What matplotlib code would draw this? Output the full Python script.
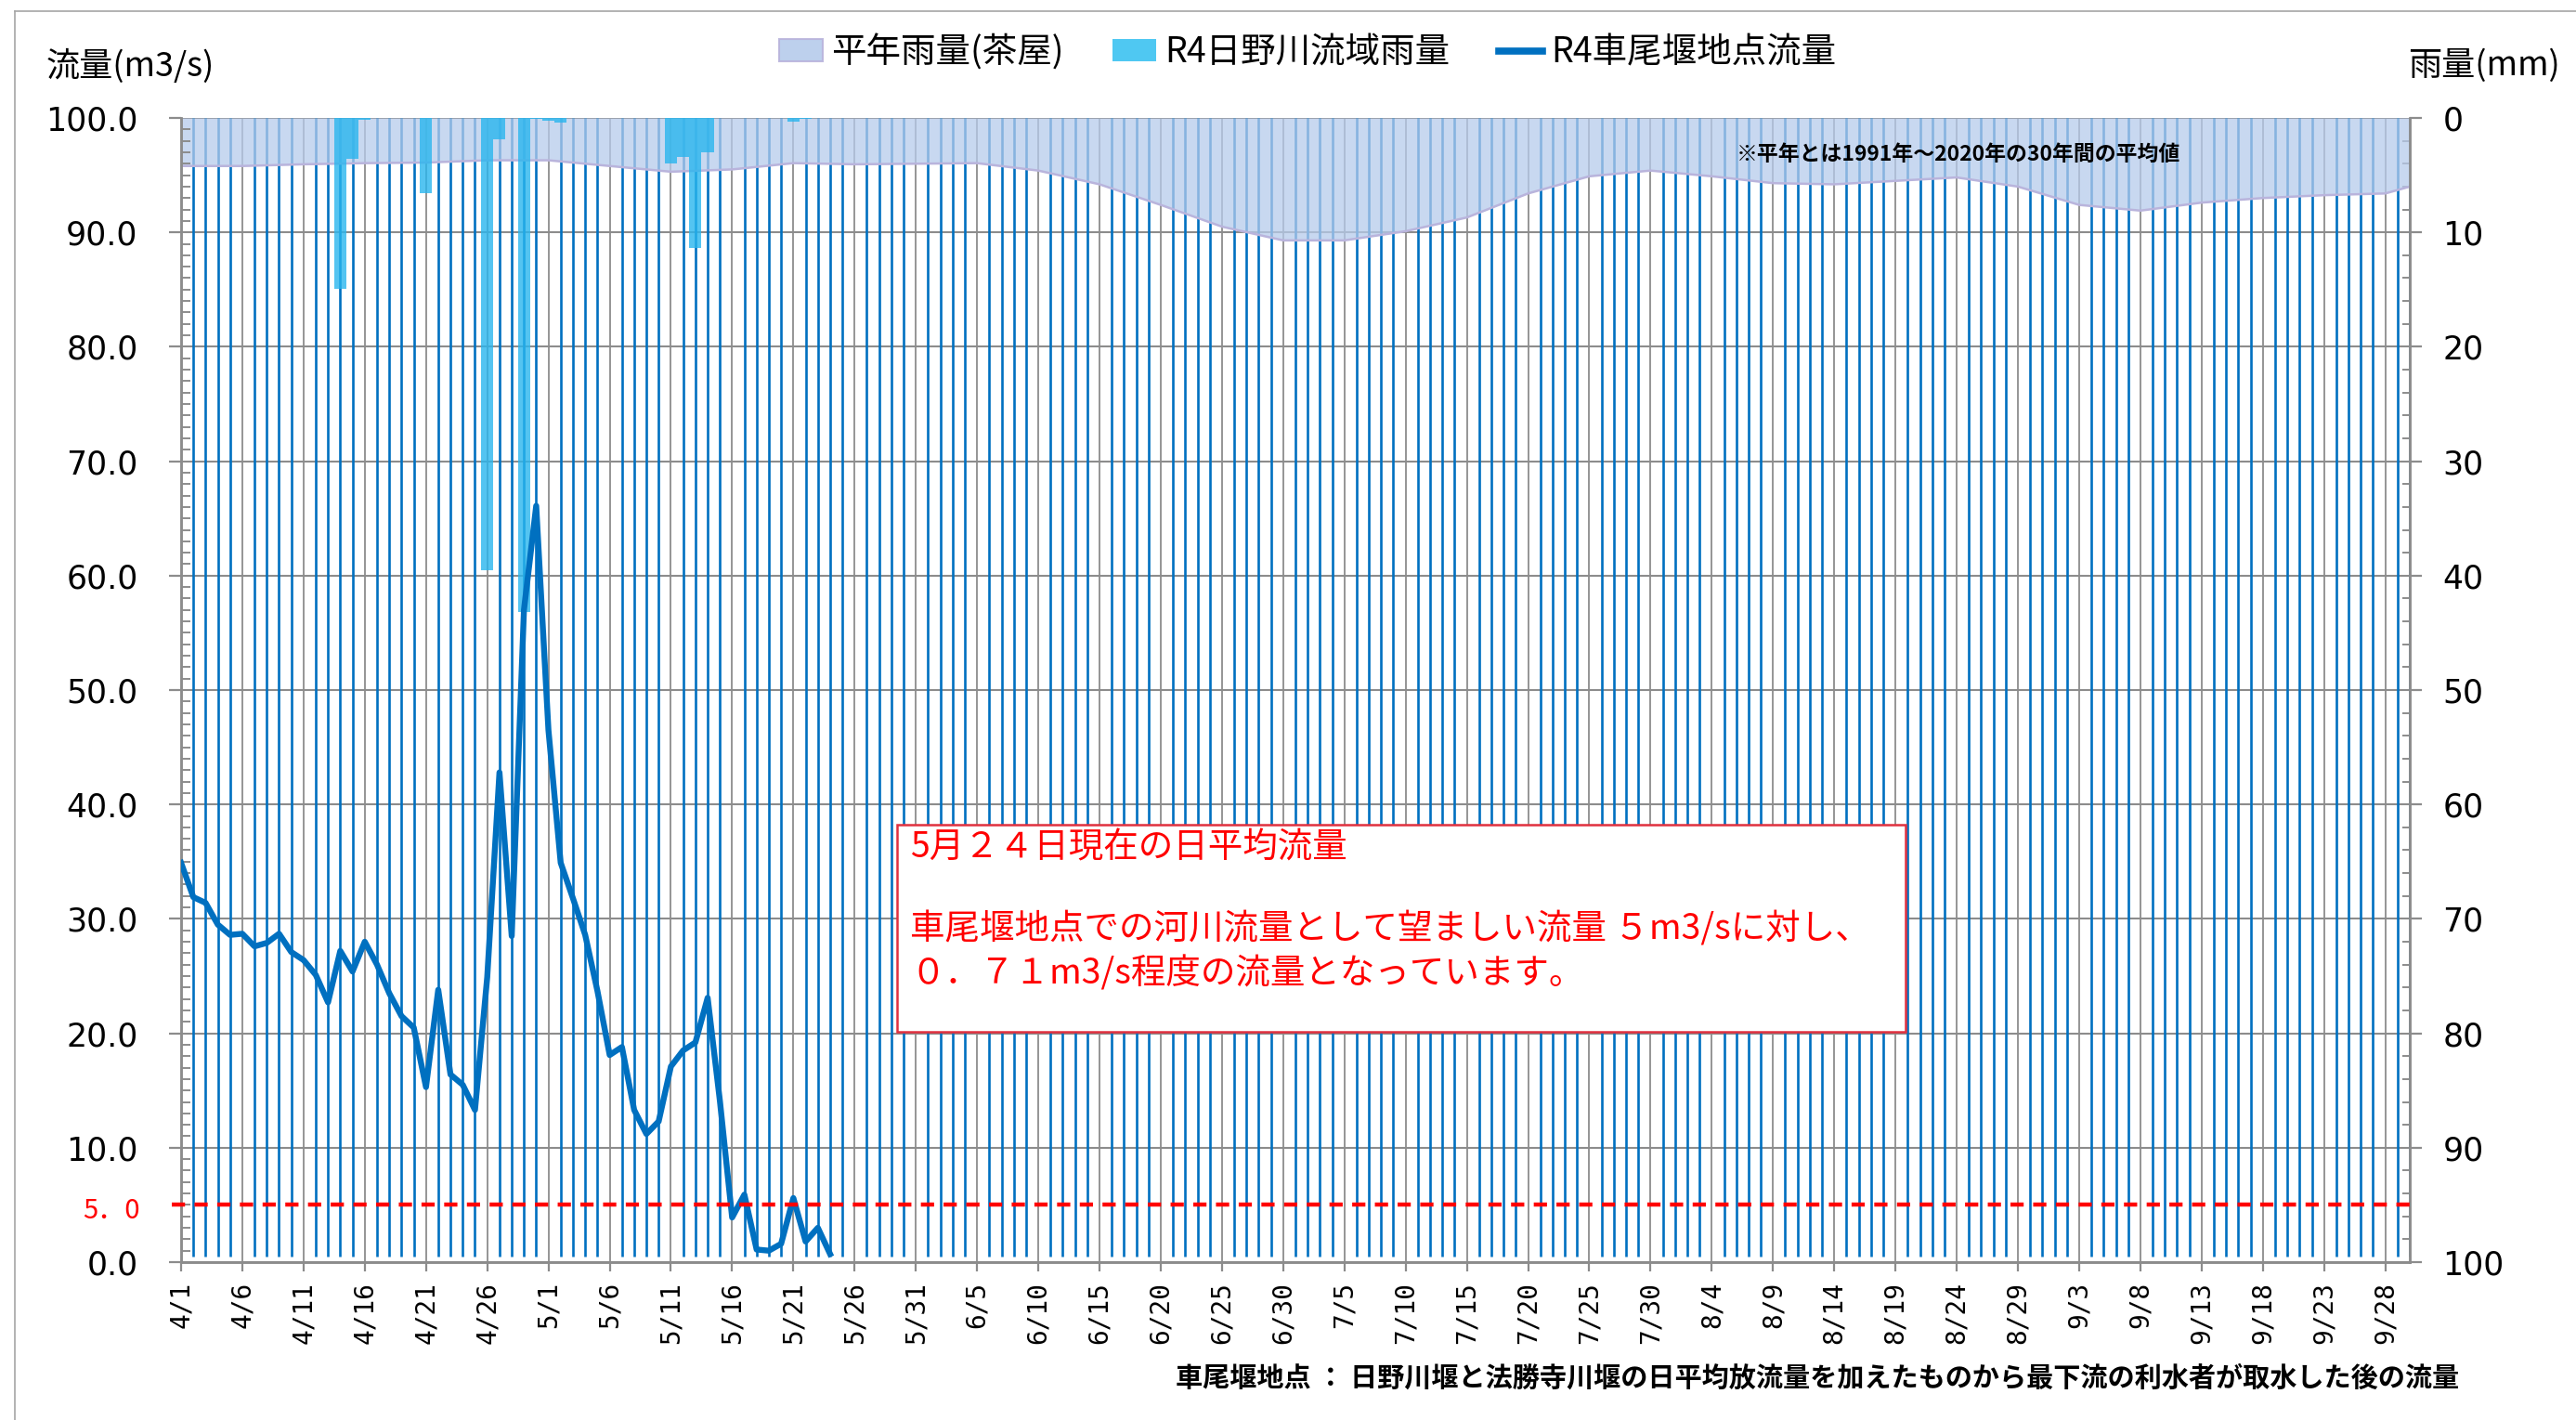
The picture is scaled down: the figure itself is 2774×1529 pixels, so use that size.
import matplotlib
matplotlib.use("Agg")
import matplotlib.pyplot as plt
import matplotlib.patches as mpatches
from matplotlib.lines import Line2D
from matplotlib.ticker import MultipleLocator
from matplotlib import font_manager as fm
import matplotlib.transforms as mtransforms
import numpy as np

JP = ["Noto Sans CJK JP", "DejaVu Sans"]
plt.rcParams["font.family"] = JP

_names = {f.name for f in fm.fontManager.ttflist}
if "Liberation Sans Narrow" in _names:
    NUM_FONT, NUM_SIZE = ["Liberation Sans Narrow", "DejaVu Sans"], 32
else:
    NUM_FONT, NUM_SIZE = ["DejaVu Sans"], 25

# ── Data ──────────────────────────────────────────────────────────────────────
n_days = 183  # 4/1 .. 9/30

# R4 flow at 車尾堰 (m3/s), day index 0 = 4/1
flow_day = list(range(54))
flow = [34.9, 31.9, 31.4, 29.5, 28.6, 28.7, 27.6, 27.9, 28.7, 27.1,
        26.4, 25.1, 22.7, 27.2, 25.4, 28.0, 26.0, 23.5, 21.5, 20.5,
        15.3, 23.8, 16.4, 15.5, 13.3, 24.9, 42.8, 28.5, 57.0, 66.1,
        46.5, 34.9, 31.8, 28.6, 23.7, 18.1, 18.8, 13.3, 11.2, 12.3,
        17.1, 18.5, 19.2, 23.1, 14.1, 3.9, 5.9, 1.1, 1.0, 1.6,
        5.6, 1.8, 3.0, 0.71]

# R4 日野川流域雨量 (mm)
rain_day = [13, 14, 15, 20, 25, 26, 28, 29, 30, 31, 40, 41, 42, 43, 50, 51]
rain_mm = [14.9, 3.6, 0.15, 6.6, 39.5, 1.9, 43.2, 0.1, 0.25, 0.4,
           4.0, 3.4, 11.4, 3.0, 0.3, 0.1]

# 平年雨量(茶屋) (mm)
normal_day = [0, 5, 10, 15, 20, 25, 30, 35, 40, 45, 50, 55, 60, 65, 70,
              75, 80, 85, 90, 95, 100, 105, 110, 115, 120, 125, 130, 135,
              140, 145, 150, 155, 160, 165, 170, 175, 180, 182]
normal_mm = [4.2, 4.2, 4.05, 3.95, 3.9, 3.7, 3.7, 4.2, 4.7, 4.5, 3.95,
             4.05, 4.0, 3.95, 4.6, 5.8, 7.6, 9.5, 10.7, 10.7, 9.9, 8.7,
             6.6, 5.1, 4.6, 5.1, 5.7, 5.8, 5.5, 5.2, 6.0, 7.6, 8.1, 7.4,
             7.0, 6.75, 6.6, 6.0]

target_flow = 5.0

tick_day = list(range(0, 181, 5))
tick_labels = ["4/1", "4/6", "4/11", "4/16", "4/21", "4/26", "5/1", "5/6",
               "5/11", "5/16", "5/21", "5/26", "5/31", "6/5", "6/10", "6/15",
               "6/20", "6/25", "6/30", "7/5", "7/10", "7/15", "7/20", "7/25",
               "7/30", "8/4", "8/9", "8/14", "8/19", "8/24", "8/29", "9/3",
               "9/8", "9/13", "9/18", "9/23", "9/28"]

flow_ticks = np.arange(0, 101, 10)
rain_ticks = np.arange(0, 101, 10)

# ── Colours ───────────────────────────────────────────────────────────────────
BLUE = "#0070C0"
GRID = "#8C8C8C"
AREA = (182 / 255, 203 / 255, 235 / 255)
AREA_EDGE = "#B9B4DC"
RAIN = "#29B6EE"
RED = "#FF0000"

W, H = 2774, 1529
fig = plt.figure(figsize=(W / 100, H / 100), dpi=100)
fig.patch.set_facecolor("white")

ax = fig.add_axes([195 / W, 1 - 1359 / H, 2400 / W, 1232 / H])
ax2 = ax.twinx()
ax.set_zorder(ax2.get_zorder() + 1)
ax.patch.set_visible(False)

# ── Day lines and grid (bottom layer, on ax2) ────────────────────────────────
all_days = np.arange(n_days)
blue_days = [d for d in all_days if d not in set(tick_day)]
xt = ax2.get_xaxis_transform()
ax2.vlines(blue_days, 0.0045, 1, transform=xt, colors=BLUE, lw=1.9, zorder=0.6)
ax2.vlines(tick_day, 0, 1, transform=xt, colors=GRID, lw=1.3, zorder=0.6)
ax2.set_yticks(rain_ticks)
ax2.yaxis.grid(True, color=GRID, lw=1.5, zorder=0.5)
ax2.set_axisbelow(True)

# ── Rain series (right axis, inverted) ───────────────────────────────────────
ax2.fill_between(normal_day, 0, normal_mm, color=AREA, alpha=0.75, lw=0, zorder=1)
ax2.plot(normal_day, normal_mm, color=AREA_EDGE, lw=1.8, zorder=1.1)
ax2.bar(rain_day, rain_mm, width=1.0, color=RAIN, alpha=0.8, lw=0, zorder=2)

# ── Flow (left axis) ─────────────────────────────────────────────────────────
ax.plot(flow_day, flow, color=BLUE, lw=4.6, zorder=3)
ax.axhline(target_flow, xmin=-0.004, xmax=1, color=RED, lw=3.2,
           dashes=(3.2, 2.3), zorder=4, clip_on=False)

ax.set_xlim(0, n_days - 1)
ax.set_ylim(0, 100)
ax2.set_ylim(100, 0)

# ── Axes styling ─────────────────────────────────────────────────────────────
ax.set_xticks(tick_day)
ax.set_xticklabels(tick_labels, rotation=90, family=["DejaVu Sans Mono"],
                   fontsize=20, va="top")
ax.tick_params(axis="x", direction="out", length=7, width=1.6, color=GRID, pad=8)

ax.set_yticks(flow_ticks)
ax.set_yticklabels([f"{v:.1f}" for v in flow_ticks], family=NUM_FONT,
                   fontsize=NUM_SIZE)
ax.yaxis.set_minor_locator(MultipleLocator(1))
ax.tick_params(axis="y", which="major", direction="out", length=9.5,
               width=1.6, color=GRID, pad=24)
ax.tick_params(axis="y", which="minor", direction="in", length=7,
               width=1.4, color=GRID)

ax2.set_yticklabels([f"{v:d}" for v in rain_ticks], family=NUM_FONT,
                    fontsize=NUM_SIZE)
ax2.yaxis.set_minor_locator(MultipleLocator(2))
ax2.tick_params(axis="y", which="major", direction="out", length=9.5,
                width=1.6, color=GRID, pad=16)
ax2.tick_params(axis="y", which="minor", direction="in", length=6,
                width=1.4, color=GRID)

for a in (ax, ax2):
    for s in a.spines.values():
        s.set_color(GRID)
        s.set_linewidth(1.8)
    a.spines["top"].set_visible(False)

# red 5.0 label
trans = mtransforms.blended_transform_factory(ax.transAxes, ax.transData)
ax.text(-0.0185, 4.5, "5．0", transform=trans, ha="right", va="center",
        color=RED, fontsize=21)

# normal-year note
ax.text(145.1, 96.8, "※平年とは1991年～2020年の30年間の平均値", ha="center",
        va="center", fontsize=16.5, fontweight="bold", color="black", zorder=6)

# ── Axis titles ──────────────────────────────────────────────────────────────
fig.text(50 / W, 1 - 71 / H, "流量(m3/s)", ha="left", va="center", fontsize=26)
fig.text(2593 / W, 1 - 71 / H, "雨量(mm)", ha="left", va="center", fontsize=26)

# ── Legend ───────────────────────────────────────────────────────────────────
handles = [
    mpatches.Patch(facecolor=AREA, alpha=0.9, edgecolor=AREA_EDGE, linewidth=1.5),
    mpatches.Patch(facecolor="#4FC8F2", linewidth=0),
    Line2D([], [], color=BLUE, lw=5.5),
]
labels = ["平年雨量(茶屋)", "R4日野川流域雨量", "R4車尾堰地点流量"]
fig.legend(handles, labels, loc="center", bbox_to_anchor=(0.5076, 0.963),
           ncol=3, frameon=False, fontsize=27, handlelength=1.25,
           handleheight=0.6, handletextpad=0.25, columnspacing=1.4)

# ── Message box ──────────────────────────────────────────────────────────────
box = mpatches.Rectangle((966 / W, 1 - 1111 / H), 1086 / W, 223 / H,
                         transform=fig.transFigure, facecolor="white",
                         edgecolor="#E0303F", linewidth=1.8, zorder=10)
fig.patches.append(box)
msg_lines = [
    (913, "5月２４日現在の日平均流量"),
    (1001, "車尾堰地点での河川流量として望ましい流量 ５m3/sに対し、"),
    (1049, "０．７１m3/s程度の流量となっています。"),
]
for ypx, s in msg_lines:
    fig.text(980 / W, 1 - ypx / H, s, ha="left", va="center", color=RED,
             fontsize=27, zorder=11)

# ── Footnote ─────────────────────────────────────────────────────────────────
fig.text(2648 / W, 1 - 1484 / H,
         "車尾堰地点 ： 日野川堰と法勝寺川堰の日平均放流量を加えたものから最下流の利水者が取水した後の流量",
         ha="right", va="center", fontsize=21, fontweight="bold")

# ── Outer frame (cropped chart border) ───────────────────────────────────────
fx, fy = 16 / W, 1 - 12 / H
fig.add_artist(Line2D([fx, 1], [fy, fy], transform=fig.transFigure,
                      color="#A6A6A6", lw=1.2))
fig.add_artist(Line2D([fx, fx], [0, fy], transform=fig.transFigure,
                      color="#A6A6A6", lw=1.2))

fig.savefig("out.png", dpi=100, facecolor="white")
